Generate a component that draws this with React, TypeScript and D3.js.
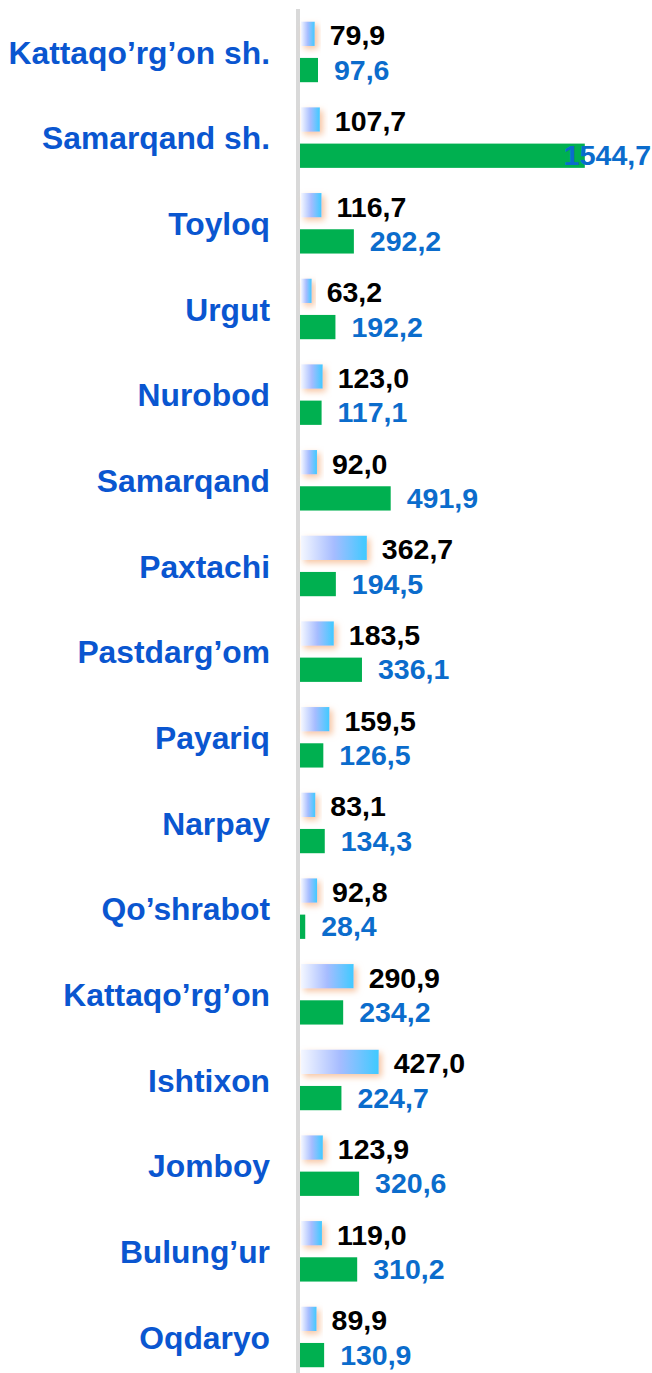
import React from "react";
import * as d3 from "d3";

const categories = [
  "Kattaqo’rg’on sh.",
  "Samarqand sh.",
  "Toyloq",
  "Urgut",
  "Nurobod",
  "Samarqand",
  "Paxtachi",
  "Pastdarg’om",
  "Payariq",
  "Narpay",
  "Qo’shrabot",
  "Kattaqo’rg’on",
  "Ishtixon",
  "Jomboy",
  "Bulung’ur",
  "Oqdaryo",
];
const seriesA = [79.9, 107.7, 116.7, 63.2, 123.0, 92.0, 362.7, 183.5, 159.5, 83.1, 92.8, 290.9, 427.0, 123.9, 119.0, 89.9];
const seriesB = [97.6, 1544.7, 292.2, 192.2, 117.1, 491.9, 194.5, 336.1, 126.5, 134.3, 28.4, 234.2, 224.7, 320.6, 310.2, 130.9];

const W = 652;
const H = 1373;
const FONT = "'Liberation Sans', Arial, sans-serif";

const fmt = (v: number) => d3.format(".1f")(v).replace(".", ",");

export default function App() {
  const x = d3.scaleLinear().domain([0, 1600]).range([300, 595]);
  const y = d3.scaleBand<string>().domain(categories).range([9.7, 1380.4]).paddingInner(0).paddingOuter(0);
  const inner = d3.scaleBand<string>().domain(["a", "b"]).range([12, 72.5]).paddingInner(0.33).paddingOuter(0);
  const valFont = 28.5;
  const estW = (s: string) => s.split("").reduce((a, c) => a + (c === "," ? 0.278 : 0.556), 0) * valFont;

  return (
    <svg width={W} height={H} style={{ position: "absolute", left: 0, top: 0, background: "#fff" }} fontFamily={FONT}>
      <defs>
        <linearGradient id="blueGrad" x1="0" x2="1" y1="0" y2="0">
          <stop offset="0" stopColor="#f4f7ff" />
          <stop offset="0.5" stopColor="#a6bcff" />
          <stop offset="1" stopColor="#3fcaff" />
        </linearGradient>
        <filter id="glow" x="-30%" y="-40%" width="170%" height="190%">
          <feDropShadow dx="3" dy="3" stdDeviation="3" floodColor="#f4b183" floodOpacity="0.75" />
        </filter>
      </defs>
      <rect x={0} y={0} width={W} height={H} fill="#fff" />
      <line x1={298} x2={298} y1={9} y2={H} stroke="#d9d9d9" strokeWidth={4} />
      {categories.map((c, i) => {
        const y0 = y(c)!;
        const cy = y0 + y.bandwidth() / 2;
        const ya = y0 + inner("a")!;
        const yb = y0 + inner("b")!;
        const bw = inner.bandwidth();
        const xa = x(seriesA[i]);
        const xb = x(seriesB[i]);
        const la = fmt(seriesA[i]);
        const lb = fmt(seriesB[i]);
        let lbx = xb + 16;
        let lbAnchor: "start" | "end" = "start";
        if (lbx + estW(lb) > W - 1) {
          lbx = W - 1;
          lbAnchor = "end";
        }
        return (
          <g key={c}>
            <text x={270} y={cy} textAnchor="end" dominantBaseline="central" fontSize={31.8} fontWeight="bold" fill="#0a56d0">
              {c}
            </text>
            <rect x={x(0) + 1} y={ya} width={xa - x(0) - 1} height={bw} fill="url(#blueGrad)" filter="url(#glow)" />
            <rect x={x(0)} y={yb} width={xb - x(0)} height={bw} fill="#00b050" />
            <text x={xa + 15} y={ya + bw / 2 + 1.5} dominantBaseline="central" fontSize={valFont} fontWeight="bold" fill="#000">
              {la}
            </text>
            <text x={lbx} y={yb + bw / 2 - 0.5} textAnchor={lbAnchor} dominantBaseline="central" fontSize={valFont} fontWeight="bold" fill="#0b6ccc">
              {lb}
            </text>
          </g>
        );
      })}
    </svg>
  );
}
